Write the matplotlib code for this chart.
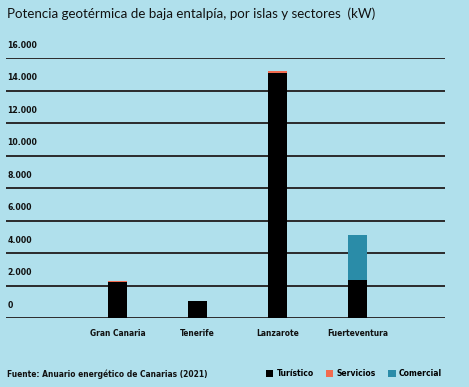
import matplotlib
matplotlib.use("Agg")
import matplotlib.pyplot as plt
from matplotlib.patches import Patch
import matplotlib.transforms as mtransforms

islas = ["Gran Canaria", "Tenerife", "Lanzarote", "Fuerteventura"]
turistico = [2230, 1050, 15100, 2340]
servicios = [70, 0, 100, 0]
comercial = [0, 0, 0, 2760]
yticks = [0, 2000, 4000, 6000, 8000, 10000, 12000, 14000, 16000]
ytick_labels = ["0", "2.000", "4.000", "6.000", "8.000", "10.000", "12.000", "14.000", "16.000"]
sectores = ["Turístico", "Servicios", "Comercial"]
colores = ["#000000", "#f26b4f", "#2a8ca8"]

BG = "#b0e0ec"
W, H = 469, 387
fig = plt.figure(figsize=(W / 100, H / 100), dpi=100, facecolor=BG)
ax = fig.add_axes([6 / W, (H - 318) / H, 439 / W, (318 - 58) / H])
ax.set_facecolor(BG)

cond = dict(family="DejaVu Sans", stretch="condensed", fontweight="bold", color="#111111")

x = list(range(len(islas)))
bw = 0.24
ax.bar(x, turistico, bw, color=colores[0], zorder=3)
ax.bar(x, servicios, bw, bottom=turistico, color=colores[1], zorder=3)
bot2 = [a + b for a, b in zip(turistico, servicios)]
ax.bar(x, comercial, bw, bottom=bot2, color=colores[2], zorder=3)

ax.set_xlim(-1.394, 4.094)
ax.set_ylim(0, 16000)
for s in ax.spines.values():
    s.set_visible(False)
ax.set_xticks([])
ax.set_yticks([])
trans = mtransforms.blended_transform_factory(ax.transAxes, ax.transData)
for v, lab in zip(yticks, ytick_labels):
    ax.axhline(v, color="#2b2b2b", lw=1.4, zorder=2)
    ax.text(0.003, v + 500, lab, transform=trans, ha="left", va="bottom",
            fontsize=6.2, **cond)

for xi, lab in zip(x, islas):
    ax.text(xi, -700, lab, ha="center", va="top", fontsize=6.0, **cond)

fig.text(7 / W, 1 - 14 / H, "Potencia geotérmica de baja entalpía, por islas y sectores  (kW)",
         ha="left", va="center", fontsize=9.6, family=["Lato", "DejaVu Sans"], color="#111111")
fig.text(7 / W, 1 - 374 / H, "Fuente: Anuario energético de Canarias (2021)",
         ha="left", va="center", fontsize=6.0, **cond)

handles = [Patch(facecolor=c, edgecolor="none") for c in colores]
fig.legend(handles, sectores, loc="center left", bbox_to_anchor=(258 / W, 1 - 374 / H),
           ncol=3, frameon=False, handlelength=0.9, handleheight=0.9, handletextpad=0.4,
           columnspacing=1.4, prop={"family": "DejaVu Sans", "stretch": "condensed",
                                    "size": 6.1, "weight": "bold"})

fig.savefig("out.png", dpi=100, facecolor=BG)
